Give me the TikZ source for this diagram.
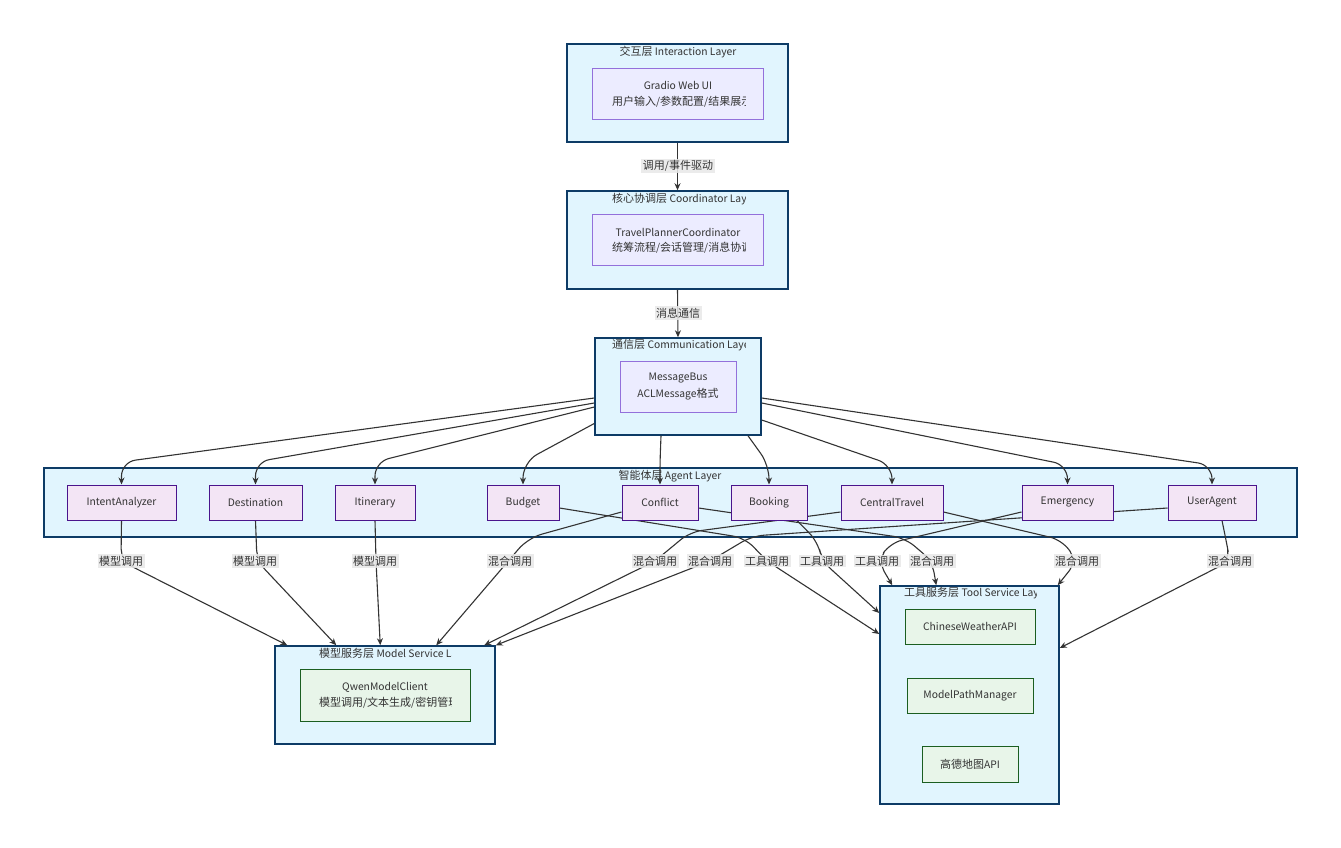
\documentclass[tikz,border=0pt]{standalone}
\usepackage{fontspec}
\setmainfont{Noto Sans CJK SC}
\usetikzlibrary{arrows.meta,calc}
\pgfdeclarelayer{bg}
\pgfdeclarelayer{edgelayer}
\pgfsetlayers{bg,edgelayer,main}
\newcommand\zh[1]{{\fontsize{11}{12}\selectfont #1}}
\definecolor{layerfill}{HTML}{E1F5FE}
\definecolor{layerdraw}{HTML}{0D3B66}
\definecolor{corefill}{HTML}{ECECFF}
\definecolor{coredraw}{HTML}{9370DB}
\definecolor{agentfill}{HTML}{F3E5F5}
\definecolor{agentdraw}{HTML}{4A148C}
\definecolor{svcfill}{HTML}{E8F5E9}
\definecolor{svcdraw}{HTML}{1B5E20}
\definecolor{edgecol}{HTML}{333333}
\definecolor{lblfill}{HTML}{E8E8E8}
\definecolor{txtcol}{HTML}{333333}
\tikzset{
  basefont/.style={font=\fontsize{10.3}{12}\selectfont, text=txtcol},
  layerbox/.style={draw=layerdraw, fill=layerfill, line width=1.5pt, inner sep=0pt},
  corebox/.style={draw=coredraw, fill=corefill, line width=0.8pt, inner sep=0pt},
  agentbox/.style={draw=agentdraw, fill=agentfill, line width=1pt, inner sep=0pt, minimum height=35pt, basefont},
  svcbox/.style={draw=svcdraw, fill=svcfill, line width=1pt, inner sep=0pt, basefont},
  txt/.style={basefont, inner sep=0pt},
  lbl/.style={basefont, fill=lblfill, fill opacity=0.85, text opacity=1, inner sep=1.5pt},
  edge/.style={draw=edgecol, line width=1.1pt, -{Stealth[length=7pt,width=6pt]}},
}
\begin{document}
\begin{tikzpicture}[x=1pt, y=-1pt]
\useasboundingbox (0,0) rectangle (1341,848);
\begin{pgfonlayer}{bg}
\fill[white] (0,0) rectangle (1341,848);
\node[layerbox, minimum width=221pt, minimum height=98pt] (L1) at (677.5,93) {};
\node[layerbox, minimum width=221pt, minimum height=98pt] (L2) at (677.5,240) {};
\node[layerbox, minimum width=166pt, minimum height=97pt] (L3) at (678,386.5) {};
\node[layerbox, minimum width=1253pt, minimum height=69pt] (L4) at (670.5,502.5) {};
\node[layerbox, minimum width=220pt, minimum height=98pt] (L5) at (385,695) {};
\node[layerbox, minimum width=179pt, minimum height=218pt] (L6) at (969.5,695) {};
\end{pgfonlayer}

% interaction layer
\node[txt] (t1) at (678,52) {\zh{交互层} Interaction Layer};
\node[corebox, minimum width=171pt, minimum height=51pt] (gradio) at (677.5,93.5) {};
\node[txt] (g1) at (678,85) {Gradio Web UI};
\begin{scope}
\clip (605,92) rectangle (745,112);
\node[txt, anchor=west] (g2) at (612,102) {\zh{用户输入}/\zh{参数配置}/\zh{结果展示}};
\end{scope}

% coordinator layer
\begin{scope}
\clip (600,191) rectangle (745,210);
\node[txt, anchor=west] (t2) at (612,199) {\zh{核心协调层} Coordinator Layer};
\end{scope}
\node[corebox, minimum width=171pt, minimum height=51pt] (coord) at (677.5,239.5) {};
\node[txt] (c1) at (678,232) {TravelPlannerCoordinator};
\begin{scope}
\clip (605,238) rectangle (745,258);
\node[txt, anchor=west] (c2) at (612,248) {\zh{统筹流程}/\zh{会话管理}/\zh{消息协调}};
\end{scope}

% communication layer
\begin{scope}
\clip (600,338) rectangle (745,356);
\node[txt, anchor=west] (t3) at (612,345) {\zh{通信层} Communication Layer};
\end{scope}
\node[corebox, minimum width=116pt, minimum height=51pt] (bus) at (678,386.5) {};
\node[txt] (b1) at (678,378) {MessageBus};
\node[txt] (b2) at (678,394) {ACLMessage\zh{格式}};

% agent layer
\node[txt] (t4) at (670,476) {\zh{智能体层} Agent Layer};
\node[agentbox, minimum width=109pt] (ia) at (121.5,502.5) {IntentAnalyzer};
\node[agentbox, minimum width=93pt] (dest) at (255.5,502.5) {Destination};
\node[agentbox, minimum width=80pt] (itin) at (375,502.5) {Itinerary};
\node[agentbox, minimum width=72pt] (budget) at (523,502.5) {Budget};
\node[agentbox, minimum width=76pt] (conflict) at (660,502.5) {Conflict};
\node[agentbox, minimum width=76pt] (booking) at (769,502.5) {Booking};
\node[agentbox, minimum width=102pt] (central) at (892,502.5) {CentralTravel};
\node[agentbox, minimum width=91pt] (emerg) at (1067.5,502.5) {Emergency};
\node[agentbox, minimum width=88pt] (user) at (1212,502.5) {UserAgent};

% model service layer
\begin{scope}
\clip (290,646) rectangle (451,664);
\node[txt, anchor=west] (t5) at (319,654) {\zh{模型服务层} Model Service Layer};
\end{scope}
\node[svcbox, minimum width=170pt, minimum height=52pt] (qwen) at (385,695) {};
\node[txt] (q1) at (385,687) {QwenModelClient};
\begin{scope}
\clip (305,694) rectangle (451,714);
\node[txt, anchor=west] (q2) at (319,703) {\zh{模型调用}/\zh{文本生成}/\zh{密钥管理}};
\end{scope}

% tool service layer
\begin{scope}
\clip (885,586) rectangle (1036,604);
\node[txt, anchor=west] (t6) at (904,593) {\zh{工具服务层} Tool Service Layer};
\end{scope}
\node[svcbox, minimum width=130pt, minimum height=35pt] (weather) at (970,626.5) {ChineseWeatherAPI};
\node[svcbox, minimum width=126pt, minimum height=35pt] (mpm) at (970,695.5) {ModelPathManager};
\node[svcbox, minimum width=96pt, minimum height=36pt] (gaode) at (970,764) {\zh{高德地图}API};

% edge labels
\node[lbl] (e1) at (678,166) {\zh{调用}/\zh{事件驱动}};
\node[lbl] (e2) at (678,313) {\zh{消息通信}};
\node[lbl] (m1) at (121,561) {\zh{模型调用}};
\node[lbl] (m2) at (255,561) {\zh{模型调用}};
\node[lbl] (m3) at (375,561) {\zh{模型调用}};
\node[lbl] (h1) at (510,561) {\zh{混合调用}};
\node[lbl] (h2) at (655,561) {\zh{混合调用}};
\node[lbl] (h3) at (710,561) {\zh{混合调用}};
\node[lbl] (k1) at (767,561) {\zh{工具调用}};
\node[lbl] (k2) at (822,561) {\zh{工具调用}};
\node[lbl] (k3) at (877,561) {\zh{工具调用}};
\node[lbl] (h4) at (932,561) {\zh{混合调用}};
\node[lbl] (h5) at (1077,561) {\zh{混合调用}};
\node[lbl] (h6) at (1230,561) {\zh{混合调用}};

\begin{pgfonlayer}{edgelayer}
\draw[edge] (L1.south) -- (L2.north);
\draw[edge] (L2.south) -- (L3.north);
% bus to agents
\draw[edge, rounded corners=14pt] ($(L3.west)+(0,11.5)$) -- (121.5,462) -- (ia.north);
\draw[edge, rounded corners=14pt] ($(L3.west)+(0,16.5)$) -- (255.5,462) -- (dest.north);
\draw[edge, rounded corners=14pt] ($(L3.west)+(0,20.5)$) -- (375,462) -- (itin.north);
\draw[edge, rounded corners=16pt] ($(L3.west)+(0,37)$) -- (523,462) -- (budget.north);
\draw[edge, rounded corners=10pt] ($(L3.south)+(-17,0)$) -- (660,462) -- (conflict.north);
\draw[edge, rounded corners=14pt] ($(L3.south)+(70,0)$) -- (769,465) -- (booking.north);
\draw[edge, rounded corners=14pt] ($(L3.east)+(0,33.5)$) -- (892,465) -- (central.north);
\draw[edge, rounded corners=14pt] ($(L3.east)+(0,16.5)$) -- (1067.5,465) -- (emerg.north);
\draw[edge, rounded corners=14pt] ($(L3.east)+(0,11.5)$) -- (1212,465) -- (user.north);
% agents to model service
\draw[edge, rounded corners=12pt] (ia.south) -- (m1.center) -- ($(L5.north west)+(13,0)$);
\draw[edge, rounded corners=12pt] (dest.south) -- (257,561) -- ($(L5.north west)+(62,0)$);
\draw[edge, rounded corners=12pt] (itin.south) -- (376,561) -- ($(L5.north west)+(106,0)$);
\draw[edge, rounded corners=14pt] ($(conflict.west)+(0,9.5)$) -- (528,538) -- ($(L5.north west)+(162,0)$);
\draw[edge, rounded corners=12pt] ($(central.west)+(0,9.5)$) -- (690,532) -- (h2.center) -- ($(L5.north west)+(210,0)$);
\draw[edge, rounded corners=12pt] ($(user.west)+(0,5.5)$) -- (752,536) -- (h3.center) -- (L5.north east);
% agents to tool service
\draw[edge, rounded corners=12pt] ($(budget.east)+(0,5.5)$) -- (745,538) -- (k1.center) -- ($(L6.west)+(0,-61)$);
\draw[edge, rounded corners=12pt] ($(booking.south)+(28,0)$) -- (818,542) -- (k2.center) -- ($(L6.west)+(0,-82)$);
\draw[edge, rounded corners=12pt] ($(emerg.west)+(0,9.5)$) -- (890,543) -- (878,561) -- ($(L6.north west)+(13,0)$);
\draw[edge, rounded corners=12pt] ($(conflict.east)+(0,5.5)$) -- (905,538) -- (h4.center) -- ($(L6.north west)+(57,0)$);
\draw[edge, rounded corners=12pt] ($(central.east)+(0,9.5)$) -- (1062,540) -- (h5.center) -- ($(L6.north east)+(-2,0)$);
\draw[edge, rounded corners=12pt] ($(user.south)+(10,0)$) -- (1226,540) -- (h6.center) -- ($(L6.east)+(0,-47)$);
\end{pgfonlayer}
\end{tikzpicture}
\end{document}
